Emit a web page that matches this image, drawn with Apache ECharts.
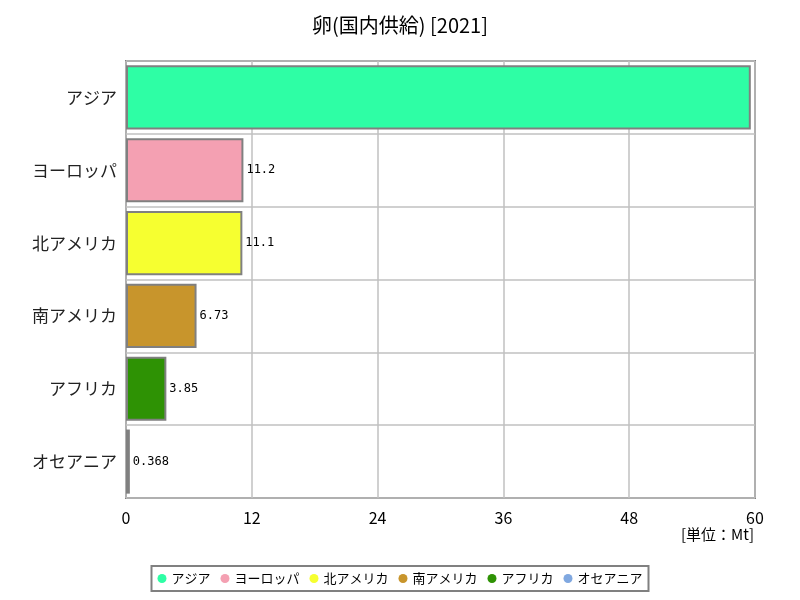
<!DOCTYPE html>
<html><head><meta charset="utf-8">
<script src="https://cdn.jsdelivr.net/npm/echarts@6/dist/echarts.min.js"></script>
<style>html,body{margin:0;padding:0;background:#fff}#c{width:800px;height:600px}</style>
</head><body><div id="c"></div>
<script>
const categories = ['アジア','ヨーロッパ','北アメリカ','南アメリカ','アフリカ','オセアニア'];
const values = [59.6, 11.2, 11.1, 6.73, 3.85, 0.368];
const colors = ['#2efea5','#f4a0b2','#f6ff30','#c8952c','#2e9204','#80a8e0'];
const xTicks = [0, 12, 24, 36, 48, 60];

const font = '"Noto Sans CJK JP", sans-serif';
const series = categories.map((name, i) => ({
  name: name,
  type: 'bar',
  stack: 'all',
  barCategoryGap: '12%',
  data: categories.map((c, j) => j === i ? values[i] : '-'),
  itemStyle: { color: colors[i], borderColor: '#808080', borderWidth: 2 },
  label: {
    show: i !== 0, position: 'right', distance: 3,
    fontFamily: '"DejaVu Sans Mono", monospace', fontSize: 12, color: '#000',
    formatter: p => String(values[i])
  }
}));

const chart = echarts.init(document.getElementById('c'));
chart.setOption({
  animation: false,
  title: { text: '卵(国内供給) [2021]', left: 'center', top: 10,
    textStyle: { fontFamily: font, fontSize: 20, fontWeight: 'normal', color: '#000' } },
  grid: { left: 126, right: 45, top: 61, bottom: 102, show: true, borderColor: '#808080', borderWidth: 2 },
  xAxis: {
    type: 'value', min: xTicks[0], max: xTicks[xTicks.length - 1], interval: 12,
    axisLine: { show: false }, axisTick: { show: false },
    axisLabel: { fontFamily: font, fontSize: 16, color: '#000', margin: 12 },
    splitLine: { lineStyle: { color: '#c0c0c0', width: 1.5 } }
  },
  yAxis: {
    type: 'category', data: categories, inverse: true,
    axisLine: { show: false }, axisTick: { show: false },
    axisLabel: { fontFamily: font, fontSize: 17, color: '#222', margin: 9 },
    splitLine: { show: true, lineStyle: { color: '#c0c0c0', width: 1.5 } }
  },
  legend: {
    bottom: 9, left: 'center', icon: 'circle', itemWidth: 9, itemHeight: 9, itemGap: 10,
    borderColor: '#808080', borderWidth: 2, padding: [6, 6],
    itemStyle: { borderWidth: 0 },
    textStyle: { fontFamily: font, fontSize: 13, color: '#000' },
    data: categories
  },
  graphic: [{ type: 'text', right: 46, top: 527,
    style: { text: '[単位：Mt]', font: '15px ' + font, fill: '#000' } }],
  series: series
});
</script></body></html>
